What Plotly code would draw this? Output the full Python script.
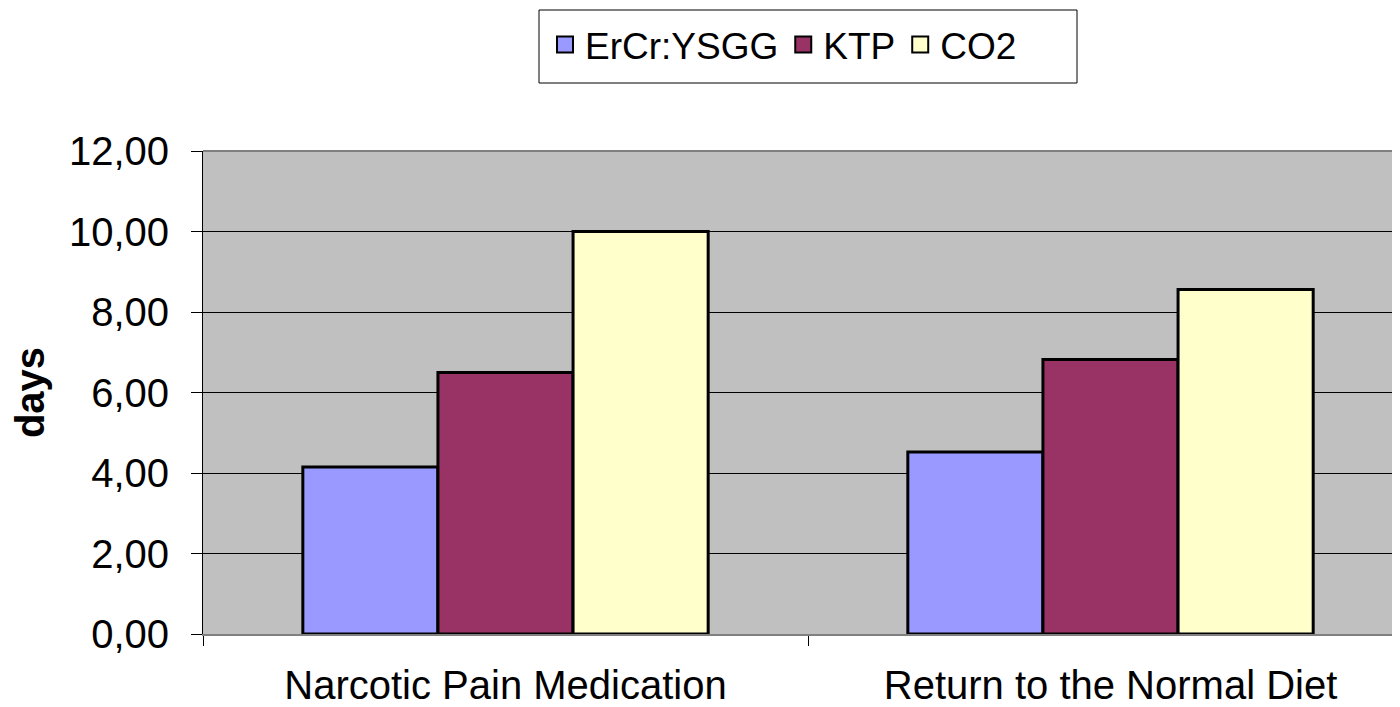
import plotly.graph_objects as go

categories = ["Narcotic Pain Medication", "Return to the Normal Diet"]
series_names = ["ErCr:YSGG", "KTP", "CO2"]
ercr = [4.15, 4.52]
ktp = [6.50, 6.82]
co2 = [10.00, 8.56]
colors = ["#9999FF", "#993366", "#FFFFCC"]

FONT = "Arial, Liberation Sans, sans-serif"
fig = go.Figure()
for name, vals, col in zip(series_names, [ercr, ktp, co2], colors):
    fig.add_trace(go.Bar(
        x=categories, y=vals, name=name, showlegend=False, legendgroup=name,
        marker=dict(color=col, line=dict(color="black", width=3)),
    ))
    fig.add_trace(go.Scatter(
        x=[None], y=[None], mode="markers", name=name, legendgroup=name,
        marker=dict(symbol="square", size=16, color=col, line=dict(color="black", width=2)),
    ))

# page body has an 8px offset
OFF = 8
W, H = 1392, 699
L, R, T, B = 195, 0, 143, 73
pw = W - L - R
ph = H - T - B
cat_w = 605


def px_x(X):
    return (X - OFF - L) / pw


def px_y(Y):
    return 1 - ((Y - OFF) - T) / ph


fig.update_layout(
    width=W, height=H,
    margin=dict(l=L, r=R, t=T, b=B, pad=0, autoexpand=False),
    paper_bgcolor="white", plot_bgcolor="#C0C0C0",
    separators=",.",
    barmode="group", bargap=0.33, bargroupgap=0,
    font=dict(family=FONT, size=40, color="black"),
    legend=dict(
        orientation="h", x=px_x(545), xanchor="left",
        y=px_y(14), yanchor="top",
        borderwidth=0, bgcolor="rgba(0,0,0,0)",
        font=dict(family=FONT, size=37), itemsizing="trace",
        itemwidth=30, tracegroupgap=0,
        traceorder="normal",
    ),
    xaxis=dict(
        range=[-0.5, -0.5 + pw / cat_w],
        tickson="boundaries", ticks="outside", ticklen=10, tickcolor="black",
        showline=True, linecolor="#808080", linewidth=2,
        showgrid=False, mirror=False, automargin=False,
        tickfont=dict(family=FONT, size=40),
        ticklabelstandoff=15,
    ),
    yaxis=dict(
        range=[0, 12], dtick=2, tickformat=".2f",
        ticks="outside", ticklen=11, tickcolor="black",
        showline=True, linecolor="black", linewidth=1,
        showgrid=True, gridcolor="black", gridwidth=1,
        zeroline=False, automargin=False,
        tickfont=dict(family=FONT, size=40),
        ticklabelstandoff=14,
        title=dict(text="<b>days</b>", font=dict(family=FONT, size=40), standoff=28),
    ),
)
fig.add_shape(type="line", xref="paper", yref="paper", x0=0, x1=1, y0=1, y1=1,
              line=dict(color="#808080", width=2))
fig.add_shape(type="rect", xref="paper", yref="paper",
              x0=px_x(539), x1=px_x(1077), y0=px_y(83), y1=px_y(10),
              line=dict(color="black", width=1), fillcolor="rgba(0,0,0,0)")
fig.write_html("out.html")
